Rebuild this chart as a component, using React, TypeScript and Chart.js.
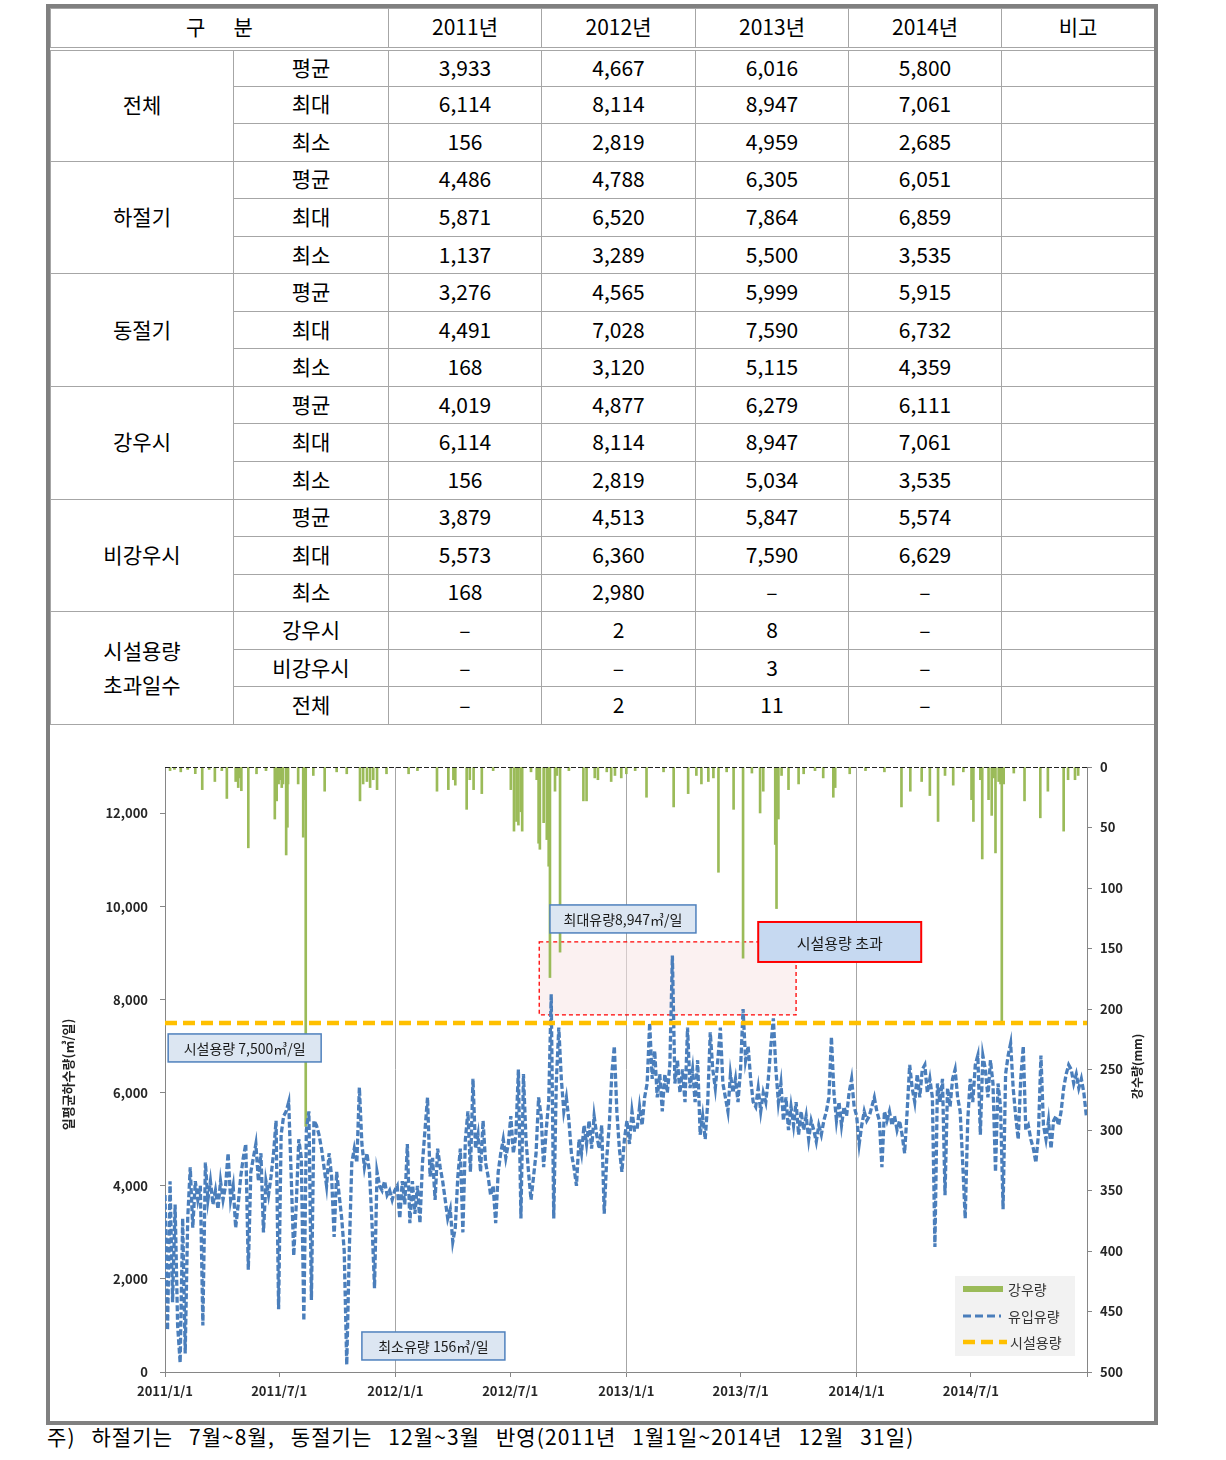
import React, { useEffect, useRef } from "react";
import { Chart, registerables } from "chart.js";

Chart.register(...registerables);

const FONT = "'Noto Sans CJK KR', 'Noto Sans', sans-serif";

// ---------------- table data ----------------
const yearHeaders = ["2011년", "2012년", "2013년", "2014년"];
const statLabels = ["평균", "최대", "최소"];
const groupLabels = ["전체", "하절기", "동절기", "강우시", "비강우시"];
const totalStats = [["3,933", "4,667", "6,016", "5,800"], ["6,114", "8,114", "8,947", "7,061"], ["156", "2,819", "4,959", "2,685"]];
const summerStats = [["4,486", "4,788", "6,305", "6,051"], ["5,871", "6,520", "7,864", "6,859"], ["1,137", "3,289", "5,500", "3,535"]];
const winterStats = [["3,276", "4,565", "5,999", "5,915"], ["4,491", "7,028", "7,590", "6,732"], ["168", "3,120", "5,115", "4,359"]];
const rainyStats = [["4,019", "4,877", "6,279", "6,111"], ["6,114", "8,114", "8,947", "7,061"], ["156", "2,819", "5,034", "3,535"]];
const dryStats = [["3,879", "4,513", "5,847", "5,574"], ["5,573", "6,360", "7,590", "6,629"], ["168", "2,980", "–", "–"]];
const groupStats = [totalStats, summerStats, winterStats, rainyStats, dryStats];
const exceedGroupLabel = ["시설용량", "초과일수"];
const exceedLabels = ["강우시", "비강우시", "전체"];
const exceedDays = [["–", "2", "8", "–"], ["–", "–", "3", "–"], ["–", "2", "11", "–"]];
const footNote = "주) 하절기는 7월~8월, 동절기는 12월~3월 반영(2011년 1월1일~2014년 12월 31일)";

// ---------------- chart data ----------------
const TOTAL_DAYS = 1461; // 2011/1/1 .. 2015/1/1
const FLOW_STEP_DAYS = 4;
const CAPACITY = 7500;
const X_TICK_DAYS = [0, 181, 365, 547, 731, 912, 1096, 1277, 1461];
const X_TICK_LABELS = ["2011/1/1", "2011/7/1", "2012/1/1", "2012/7/1", "2013/1/1", "2013/7/1", "2014/1/1", "2014/7/1", ""];
const YEAR_GRID_DAYS = [365, 731, 1096];
const LEFT_TICKS = [0, 2000, 4000, 6000, 8000, 10000, 12000];

// daily inflow (m3/day), read every 4 days
const flow2011 = [
  3800, 900, 4100, 1500, 3600, 1000, 200, 3300, 400, 3300,
  4400, 3100, 4100, 3700, 4000, 1000, 4500, 3700, 4100, 3600,
  3900, 3500, 4100, 3700, 4000, 4700, 3700, 4000, 3100, 3600,
  4200, 4600, 4900, 2200, 4300, 4600, 4900, 4100, 4700, 3000,
  4100, 3800, 4200, 4700, 5400, 1350, 5100, 5500, 5600, 5800,
  4200, 2500, 3600, 5000, 4600, 1100, 5200, 5600, 1550, 5400,
  5300, 5100, 4800, 4400, 4000, 4700, 4200, 2900, 4300, 3800,
  3300, 2600, 156, 2600, 4500, 4800, 4500, 6114, 4900, 4400,
  4700, 4300, 3200, 1800, 4300, 4000, 3900, 4100, 3800, 3900,
  3700, 3900,
];
const flow2012 = [
  4000, 3300, 4100, 3600, 4900, 3200, 4100, 3400, 4000, 3200,
  4500, 5200, 5900, 4200, 4600, 3700, 4800, 4400, 4100, 3700,
  3300, 3500, 2800, 3100, 4200, 4800, 3000, 5000, 5600, 4300,
  6300, 4800, 5100, 4300, 5400, 4500, 4200, 3800, 4000, 3200,
  4300, 4700, 5000, 4600, 4900, 5500, 4700, 5100, 6500, 3300,
  6400, 5000, 4300, 3700, 4200, 4700, 5900, 5500, 4400, 5200,
  5800, 8114, 3300, 6200, 7400, 6300, 5600, 5900, 5400, 4700,
  4400, 4000, 5000, 4700, 5300, 4900, 5400, 4800, 5500, 5100,
  4800, 5300, 3400, 4600, 5300, 6400, 7000, 5600, 4800, 4300,
  5000, 5400, 4900, 5600, 5200,
];
const flow2013 = [
  5200, 5700, 5300, 5900, 6200, 7500, 6300, 6900, 5900, 6400,
  5600, 6400, 6000, 6600, 8947, 6200, 6700, 6000, 6500, 5800,
  7400, 6100, 6500, 5800, 6700, 5100, 5500, 5000, 5800, 7300,
  6500, 6100, 6700, 7400, 6200, 5900, 5600, 6400, 6000, 6300,
  5800, 6500, 7800, 6700, 7000, 6300, 5800, 5700, 6100, 5600,
  6000, 5800, 6300, 7000, 7600, 6500, 5800, 6200, 5400, 5900,
  5200, 5700, 5300, 5800, 5100, 5600, 5200, 5500, 5000, 5400,
  5200, 4950, 5300, 5100, 5400, 5600, 5900, 7200, 6000, 5400,
  5800, 5300, 5700, 5500, 6000, 6300, 5700, 5500, 4900, 5300,
  5600, 5400, 5500,
];
const flow2014 = [
  5700, 5900, 5600, 5400, 4400, 5600, 5400, 5600, 5300, 5500,
  5200, 5400, 5100, 4700, 5600, 6600, 6100, 5800, 6400, 5900,
  6500, 6600, 6000, 6300, 5900, 2685, 6200, 5800, 6300, 3800,
  6100, 5700, 6300, 6500, 5900, 5600, 4500, 3300, 5400, 6300,
  5800, 6600, 6800, 5100, 6800, 6500, 5900, 6700, 6200, 4300,
  6200, 5700, 3500, 6400, 6800, 7061, 6100, 5500, 5000, 6300,
  7000, 5200, 5300, 5000, 4800, 4500, 5100, 6800, 5300, 5000,
  5400, 4800, 5400, 5500, 5300, 5600, 6100, 6400, 6600, 6500,
  6200, 6400, 6100, 6300, 6000, 5500,
];
const flowValues = [...flow2011, ...flow2012, ...flow2013, ...flow2014];

// rainfall (mm): day index since 2011/1/1 and amount
const rainDays = [
  8, 15, 25, 36, 48, 59, 70, 79, 90, 98, 112, 116, 119, 121, 132, 145, 160, 174, 177, 180, 182, 185, 187, 192, 194, 195,
  211, 219, 221, 223, 235, 253, 272, 288, 309, 314, 320, 325, 330, 336, 351,
  386, 400, 431, 449, 457, 460, 478, 483, 489, 502, 520, 548, 553, 557, 560, 564, 566, 580, 589, 592, 594, 600, 605, 608,
  610, 618, 621, 626, 640, 663, 668, 681, 686, 700, 707, 713, 723, 731,
  745, 763, 790, 806, 829, 842, 850, 861, 869, 877, 890, 901, 916, 930, 943, 948, 967, 969, 972, 977, 988, 1004, 1012,
  1030, 1043, 1059, 1062, 1085,
  1110, 1140, 1167, 1181, 1199, 1212, 1225, 1236, 1249, 1265, 1278, 1281, 1292, 1295, 1305, 1310, 1313, 1316, 1321, 1324,
  1326, 1329, 1345, 1362, 1387, 1399, 1424, 1431, 1442, 1447,
];
const rainMm = [
  3, 2, 4, 2, 5.5, 18.7, 2, 12, 3, 26, 12, 17, 9, 19.6, 66.8, 5.6, 3, 43, 28, 14, 10.5, 17, 14, 72.7, 49.8, 14,
  14, 58, 27, 297, 7, 20, 4, 5.6, 28, 14, 12, 17, 10.5, 18.7, 5.6,
  5.6, 3, 20, 18.7, 10.5, 15, 35, 10.5, 18.7, 22, 3, 18.7, 53, 45, 48, 37, 53, 4, 10.5, 63, 68, 46, 60, 82,
  174, 20, 7, 153, 3, 28, 28, 9, 10.5, 4, 12, 7, 9, 5.6,
  3, 25, 4, 33, 22, 7, 14, 12, 9, 87, 4, 35, 158, 5, 38, 20, 64, 117, 43, 7, 18.7, 14, 5.6,
  3, 9, 25, 17, 5.6,
  3, 4, 33, 20, 12, 23.6, 45, 7, 15, 4, 27, 45, 10.5, 76, 27, 40, 9, 71, 12, 14,
  212, 14, 5, 28, 42, 20, 53, 10.5, 10.5, 7,
];

// ---------------- annotation texts ----------------
const capacityLabel = "시설용량 7,500㎥/일";
const maxLabel = "최대유량8,947㎥/일";
const minLabel = "최소유량 156㎥/일";
const exceedLabel = "시설용량 초과";
const leftTitle = "일평균하수량(㎥/일)";
const rightTitle = "강수량(mm)";
const legendLabels = ["강우량", "유입유량", "시설용량"];

const BLUE = "#4A7EBB";
const GREEN = "#9BBB59";
const ORANGE = "#FFC000";

function drawBox(ctx: CanvasRenderingContext2D, x: number, y: number, w: number, h: number, fill: string, stroke: string, lw: number, text: string, size: number) {
  ctx.save();
  ctx.fillStyle = fill;
  ctx.fillRect(x, y, w, h);
  ctx.strokeStyle = stroke;
  ctx.lineWidth = lw;
  ctx.setLineDash([]);
  ctx.strokeRect(x, y, w, h);
  ctx.fillStyle = "#1a1a1a";
  ctx.font = `${size}px ${FONT}`;
  ctx.textAlign = "center";
  ctx.textBaseline = "middle";
  ctx.fillText(text, x + w / 2, y + h / 2 + 1);
  ctx.restore();
}

const decor = {
  id: "decor",
  beforeDatasetsDraw(chart: any) {
    const { ctx, scales } = chart;
    const x = scales.x;
    const y = scales.y;
    const l = x.getPixelForValue(593);
    const r = x.getPixelForValue(1000);
    const t = y.getPixelForValue(9241);
    const b = y.getPixelForValue(7672);
    ctx.save();
    ctx.fillStyle = "rgba(248,230,230,0.55)";
    ctx.fillRect(l, t, r - l, b - t);
    ctx.strokeStyle = "#FF0000";
    ctx.lineWidth = 1.3;
    ctx.setLineDash([4, 3]);
    ctx.strokeRect(l, t, r - l, b - t);
    ctx.restore();
  },
  afterDatasetsDraw(chart: any) {
    const { ctx, chartArea, scales } = chart;
    const x = scales.x;
    const y = scales.y;
    ctx.save();
    ctx.strokeStyle = "#222";
    ctx.lineWidth = 1;
    ctx.setLineDash([5, 2]);
    ctx.beginPath();
    ctx.moveTo(chartArea.left, chartArea.top + 0.5);
    ctx.lineTo(chartArea.right, chartArea.top + 0.5);
    ctx.stroke();
    ctx.restore();

    drawBox(ctx, x.getPixelForValue(5), y.getPixelForValue(7264), 153, 28, "#DCE6F2", "#4F81BD", 1.5, capacityLabel, 14);
    drawBox(ctx, x.getPixelForValue(610), y.getPixelForValue(10036), 146, 28, "#DCE6F2", "#4F81BD", 1.5, maxLabel, 14);
    drawBox(ctx, x.getPixelForValue(312), y.getPixelForValue(860), 143, 28, "#DCE6F2", "#4F81BD", 1.5, minLabel, 14);
    drawBox(ctx, x.getPixelForValue(940), y.getPixelForValue(9670), 163, 40, "#C6D9F1", "#FF0000", 2, exceedLabel, 15);

    const lw = 120, lh = 80;
    const lx = chartArea.right - 12 - lw;
    const ly = chartArea.bottom - 16 - lh;
    ctx.save();
    ctx.fillStyle = "#F2F2F2";
    ctx.fillRect(lx, ly, lw, lh);
    const rows = [13, 40, 66];
    ctx.strokeStyle = GREEN;
    ctx.lineWidth = 6;
    ctx.setLineDash([]);
    ctx.beginPath();
    ctx.moveTo(lx + 8, ly + rows[0]);
    ctx.lineTo(lx + 48, ly + rows[0]);
    ctx.stroke();
    ctx.strokeStyle = BLUE;
    ctx.lineWidth = 2.8;
    ctx.setLineDash([8, 4]);
    ctx.beginPath();
    ctx.moveTo(lx + 8, ly + rows[1]);
    ctx.lineTo(lx + 46, ly + rows[1]);
    ctx.stroke();
    ctx.strokeStyle = ORANGE;
    ctx.lineWidth = 4.5;
    ctx.setLineDash([12, 6]);
    ctx.beginPath();
    ctx.moveTo(lx + 8, ly + rows[2]);
    ctx.lineTo(lx + 52, ly + rows[2]);
    ctx.stroke();
    ctx.setLineDash([]);
    ctx.fillStyle = "#333";
    ctx.font = `14px ${FONT}`;
    ctx.textBaseline = "middle";
    ctx.textAlign = "left";
    legendLabels.forEach((t, i) => ctx.fillText(t, lx + (i === 2 ? 55 : 53), ly + rows[i] + 1));
    ctx.restore();

    const midY = (chartArea.top + chartArea.bottom) / 2;
    ctx.save();
    ctx.fillStyle = "#222";
    ctx.textAlign = "center";
    ctx.textBaseline = "middle";
    ctx.font = `bold 13px ${FONT}`;
    ctx.translate(18, midY + 5);
    ctx.rotate(-Math.PI / 2);
    ctx.fillText(leftTitle, 0, 0);
    ctx.restore();
    ctx.save();
    ctx.fillStyle = "#222";
    ctx.textAlign = "center";
    ctx.textBaseline = "middle";
    ctx.font = `bold 12px ${FONT}`;
    ctx.translate(chartArea.right + 50, midY - 3);
    ctx.rotate(-Math.PI / 2);
    ctx.fillText(rightTitle, 0, 0);
    ctx.restore();
  },
};

function FlowChart() {
  const ref = useRef<HTMLCanvasElement | null>(null);
  useEffect(() => {
    if (!ref.current) return;
    const tickFont = { family: FONT, size: 13, weight: "bold" as const };
    const chart = new Chart(ref.current, {
      type: "bar",
      data: {
        datasets: [
          {
            type: "line",
            label: legendLabels[2],
            data: [{ x: 0, y: CAPACITY }, { x: TOTAL_DAYS, y: CAPACITY }],
            yAxisID: "y",
            borderColor: ORANGE,
            borderWidth: 4.5,
            borderDash: [12, 6],
            pointRadius: 0,
            order: 1,
          } as any,
          {
            type: "line",
            label: legendLabels[1],
            data: flowValues.map((v, i) => ({ x: i * FLOW_STEP_DAYS, y: v })),
            yAxisID: "y",
            borderColor: BLUE,
            borderWidth: 3.3,
            borderDash: [6, 2.5],
            pointRadius: 0,
            tension: 0,
            order: 2,
          } as any,
          {
            type: "bar",
            label: legendLabels[0],
            data: rainDays.map((d, i) => ({ x: d, y: rainMm[i] })),
            yAxisID: "y2",
            backgroundColor: GREEN,
            barThickness: 2,
            order: 3,
          } as any,
        ],
      },
      options: {
        responsive: false,
        animation: false,
        layout: { padding: { top: 43, left: 0, right: 0, bottom: 0 } },
        plugins: { legend: { display: false }, tooltip: { enabled: false } },
        scales: {
          x: {
            type: "linear",
            min: 0,
            max: TOTAL_DAYS,
            offset: false,
            afterBuildTicks: (s: any) => {
              s.ticks = X_TICK_DAYS.map((v) => ({ value: v }));
            },
            afterFit: (s: any) => {
              s.height = 48;
            },
            grid: {
              offset: false,
              color: (c: any) => (c.tick && YEAR_GRID_DAYS.includes(c.tick.value) ? "#A6A6A6" : "rgba(0,0,0,0)"),
              tickColor: "#868686",
              tickLength: 5,
            },
            border: { color: "#868686" },
            ticks: {
              autoSkip: false,
              maxRotation: 0,
              padding: 6,
              font: tickFont,
              color: "#262626",
              callback: (v: any) => {
                const i = X_TICK_DAYS.indexOf(Number(v));
                return i >= 0 ? X_TICK_LABELS[i] : "";
              },
            },
          },
          y: {
            position: "left",
            min: 0,
            max: 13000,
            afterBuildTicks: (s: any) => {
              s.ticks = LEFT_TICKS.map((v) => ({ value: v }));
            },
            afterFit: (s: any) => {
              s.width = 115;
            },
            grid: { drawOnChartArea: false, tickLength: 5, tickColor: "#868686" },
            border: { color: "#868686" },
            ticks: {
              padding: 12,
              font: tickFont,
              color: "#262626",
              callback: (v: any) => Number(v).toLocaleString("en-US"),
            },
          },
          y2: {
            position: "right",
            reverse: true,
            min: 0,
            max: 500,
            afterFit: (s: any) => {
              s.width = 67;
            },
            grid: { drawOnChartArea: false, tickLength: 5, tickColor: "#868686" },
            border: { color: "#868686" },
            ticks: { stepSize: 50, padding: 8, font: tickFont, color: "#262626" },
          },
        },
      } as any,
      plugins: [decor],
    });
    return () => chart.destroy();
  }, []);
  return <canvas ref={ref} width={1104} height={696} style={{ display: "block" }} />;
}

const cell: React.CSSProperties = {
  border: "1px solid #A6A6A6",
  padding: "0 0 3px 0",
  textAlign: "center",
  verticalAlign: "middle",
  fontWeight: 400,
  lineHeight: "22px",
};

function StatsTable() {
  const colWidths = [183, 155, 153, 154, 153, 153, 153];
  const rowH = 37.55;
  const body: React.ReactNode[] = [];
  groupStats.forEach((stats, g) => {
    stats.forEach((vals, r) => {
      body.push(
        <tr key={`g${g}r${r}`} style={{ height: rowH }}>
          {r === 0 && (
            <td rowSpan={3} style={cell}>
              {groupLabels[g]}
            </td>
          )}
          <td style={cell}>{statLabels[r]}</td>
          {vals.map((v, i) => (
            <td key={i} style={cell}>
              {v}
            </td>
          ))}
          <td style={cell}></td>
        </tr>
      );
    });
  });
  exceedDays.forEach((vals, r) => {
    body.push(
      <tr key={`e${r}`} style={{ height: rowH }}>
        {r === 0 && (
          <td rowSpan={3} style={{ ...cell, lineHeight: "34px" }}>
            {exceedGroupLabel[0]}
            <br />
            {exceedGroupLabel[1]}
          </td>
        )}
        <td style={cell}>{exceedLabels[r]}</td>
        {vals.map((v, i) => (
          <td key={i} style={cell}>
            {v}
          </td>
        ))}
        <td style={cell}></td>
      </tr>
    );
  });
  return (
    <table
      style={{
        borderCollapse: "collapse",
        tableLayout: "fixed",
        width: 1104,
        fontFamily: FONT,
        fontSize: 21,
        color: "#000",
      }}
    >
      <colgroup>
        {colWidths.map((w, i) => (
          <col key={i} style={{ width: w }} />
        ))}
      </colgroup>
      <thead>
        <tr style={{ height: 40 }}>
          <th colSpan={2} style={{ ...cell, borderBottom: "4px double #A6A6A6", whiteSpace: "pre" }}>
            {"구      분"}
          </th>
          {yearHeaders.map((h) => (
            <th key={h} style={{ ...cell, borderBottom: "4px double #A6A6A6" }}>
              {h}
            </th>
          ))}
          <th style={{ ...cell, borderBottom: "4px double #A6A6A6" }}>비고</th>
        </tr>
      </thead>
      <tbody>{body}</tbody>
    </table>
  );
}

export default function App() {
  return (
    <div style={{ fontFamily: FONT }}>
      <div
        style={{
          position: "absolute",
          left: 46,
          top: 4,
          width: 1112,
          height: 1421,
          border: "4px solid #808080",
          boxSizing: "border-box",
          background: "#fff",
          overflow: "hidden",
        }}
      >
        <StatsTable />
        <div style={{ position: "absolute", left: 0, top: 716 }}>
          <FlowChart />
        </div>
      </div>
      <div
        style={{
          position: "absolute",
          left: 47,
          top: 1423,
          fontSize: 21,
          lineHeight: "26px",
          whiteSpace: "pre",
          color: "#000",
          letterSpacing: 1.1,
          wordSpacing: 10,
        }}
      >
        {footNote}
      </div>
    </div>
  );
}
